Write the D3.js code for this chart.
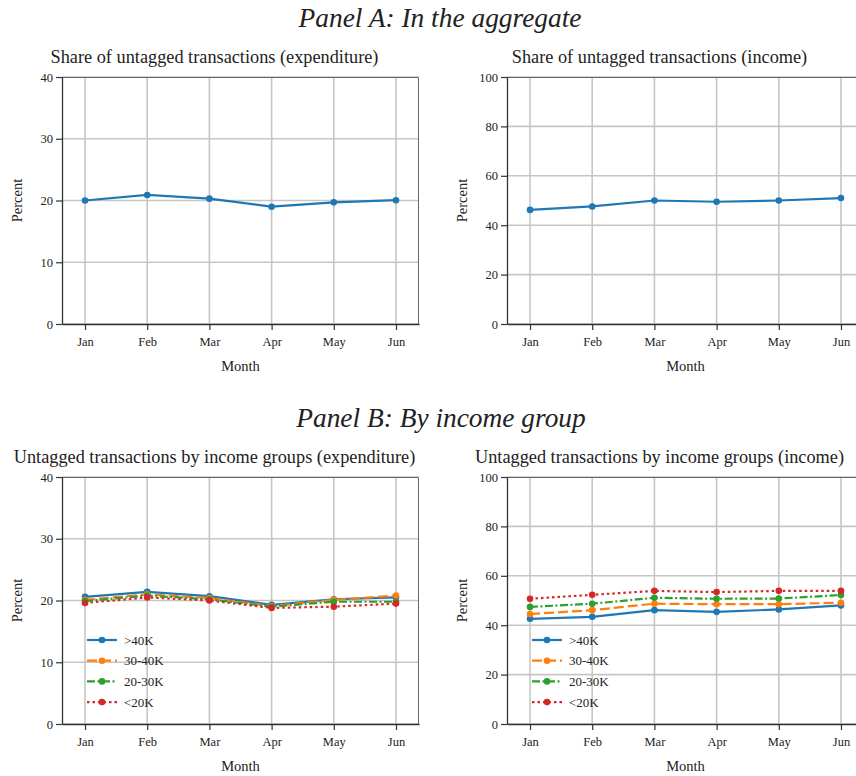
<!DOCTYPE html>
<html>
<head>
<meta charset="utf-8">
<script src="https://cdn.jsdelivr.net/npm/d3@7"></script>
<style>
  html, body { margin: 0; padding: 0; background: #fff; }
  svg { display: block; }
  text { font-family: "Liberation Serif", "Times New Roman", serif; fill: #222; }
</style>
</head>
<body>
<svg id="fig" width="856" height="776"></svg>
<script>
// ---- data ----
const months = ["Jan", "Feb", "Mar", "Apr", "May", "Jun"];
const expTicks = [0, 10, 20, 30, 40];
const incTicks = [0, 20, 40, 60, 80, 100];

// Panel A: aggregate shares (%)
const expenditureShare = [20.0, 20.9, 20.3, 19.0, 19.7, 20.05];
const incomeShare = [46.2, 47.6, 50.0, 49.5, 50.0, 51.0];

// Panel B: by income group (%)
const groupNames = [">40K", "30-40K", "20-30K", "<20K"];
const expGt40 = [20.6, 21.4, 20.7, 19.3, 20.2, 20.5];
const exp30to40 = [20.1, 21.0, 20.4, 19.1, 20.1, 20.8];
const exp20to30 = [19.9, 20.8, 20.2, 19.0, 19.8, 19.8];
const expLt20 = [19.6, 20.5, 20.0, 18.8, 19.0, 19.5];
const incGt40 = [42.6, 43.4, 46.1, 45.4, 46.4, 48.0];
const inc30to40 = [44.5, 46.1, 48.7, 48.5, 48.5, 49.1];
const inc20to30 = [47.4, 48.7, 51.1, 50.7, 50.8, 52.2];
const incLt20 = [50.7, 52.3, 53.9, 53.4, 53.9, 53.9];

// ---- styling ----
const colors = ["#1f77b4", "#ff7f0e", "#2ca02c", "#d62728"];
const dashes = [null, "10,4", "8,2.5,2,2.5", "2.5,3"];

const svg = d3.select("#fig");

function drawChart(cfg) {
  const W = 357, H = 247;
  const g = svg.append("g").attr("transform", `translate(${cfg.left},${cfg.top})`);

  const x = d3.scalePoint().domain(months).range([0, W]).padding(0.37);
  const y = d3.scaleLinear().domain([0, d3.max(cfg.ticks)]).range([H, 0]);

  // grid
  const grid = g.append("g").attr("class", "grid");
  grid.selectAll("line.v").data(months).join("line")
    .attr("x1", d => x(d)).attr("x2", d => x(d))
    .attr("y1", 0).attr("y2", H)
    .attr("stroke", "#c6c6c6").attr("stroke-width", 1.6);
  grid.selectAll("line.h").data(cfg.ticks).join("line")
    .attr("x1", 0).attr("x2", W)
    .attr("y1", d => y(d)).attr("y2", d => y(d))
    .attr("stroke", "#c6c6c6").attr("stroke-width", 1.6);

  // top / right frame
  g.append("path")
    .attr("d", `M0,0.5H${W - 0.5}V${H}`)
    .attr("fill", "none").attr("stroke", "#666").attr("stroke-width", 1);

  // axes
  const xAxis = g.append("g").attr("transform", `translate(0,${H})`)
    .call(d3.axisBottom(x).tickSize(6).tickPadding(7).tickSizeOuter(0));
  const yAxis = g.append("g")
    .call(d3.axisLeft(y).tickValues(cfg.ticks).tickSize(6).tickPadding(3).tickSizeOuter(0));
  [xAxis, yAxis].forEach(a => {
    a.attr("font-family", null).attr("font-size", null);
    a.select(".domain").attr("stroke", "#333").attr("stroke-width", 1.3);
    a.selectAll(".tick line").attr("stroke", "#333").attr("stroke-width", 1.2);
    a.selectAll(".tick text").attr("font-size", 12.5).attr("fill", "#222");
  });

  // series
  const line = d3.line().x((d, i) => x(months[i])).y(d => y(d));
  cfg.series.forEach((s, k) => {
    g.append("path").datum(s.values)
      .attr("d", line)
      .attr("fill", "none")
      .attr("stroke", s.color)
      .attr("stroke-width", 2.2)
      .attr("stroke-dasharray", s.dash)
      .attr("stroke-linejoin", "round");
    g.append("g").selectAll("circle").data(s.values).join("circle")
      .attr("cx", (d, i) => x(months[i])).attr("cy", d => y(d))
      .attr("r", 3.3).attr("fill", s.color);
  });

  // legend
  if (cfg.legend) {
    cfg.series.forEach((s, k) => {
      const ly = 163 + k * 20.7;
      g.append("line")
        .attr("x1", 25).attr("x2", 55).attr("y1", ly).attr("y2", ly)
        .attr("stroke", s.color).attr("stroke-width", 2.2)
        .attr("stroke-dasharray", s.dash);
      g.append("circle").attr("cx", 40).attr("cy", ly).attr("r", 3.3).attr("fill", s.color);
      g.append("text").attr("x", 62).attr("y", ly + 4.5)
        .attr("font-size", 13).text(s.name);
    });
  }

  // titles and axis labels
  g.append("text").attr("x", 152.5).attr("y", -14)
    .attr("text-anchor", "middle").attr("font-size", 18.3).text(cfg.title);
  g.append("text").attr("x", W / 2).attr("y", H + 47)
    .attr("text-anchor", "middle").attr("font-size", 14.5).text("Month");
  g.append("text")
    .attr("transform", `translate(-45,${H / 2}) rotate(-90)`)
    .attr("text-anchor", "middle").attr("dy", "0.35em")
    .attr("font-size", 14.5).text("Percent");
}

function groupSeries(arrs) {
  return arrs.map((v, k) => ({ name: groupNames[k], values: v, color: colors[k], dash: dashes[k] }));
}

// panel headings
svg.append("text").attr("x", 440).attr("y", 27).attr("text-anchor", "middle")
  .attr("font-size", 27.4).attr("font-style", "italic").text("Panel A: In the aggregate");
svg.append("text").attr("x", 441).attr("y", 427).attr("text-anchor", "middle")
  .attr("font-size", 27.4).attr("font-style", "italic").text("Panel B: By income group");

drawChart({
  left: 62, top: 77, ticks: expTicks,
  title: "Share of untagged transactions (expenditure)",
  series: [{ name: "all", values: expenditureShare, color: colors[0], dash: null }]
});
drawChart({
  left: 507, top: 77, ticks: incTicks,
  title: "Share of untagged transactions (income)",
  series: [{ name: "all", values: incomeShare, color: colors[0], dash: null }]
});
drawChart({
  left: 62, top: 477, ticks: expTicks, legend: true,
  title: "Untagged transactions by income groups (expenditure)",
  series: groupSeries([expGt40, exp30to40, exp20to30, expLt20])
});
drawChart({
  left: 507, top: 477, ticks: incTicks, legend: true,
  title: "Untagged transactions by income groups (income)",
  series: groupSeries([incGt40, inc30to40, inc20to30, incLt20])
});
</script>
</body>
</html>
